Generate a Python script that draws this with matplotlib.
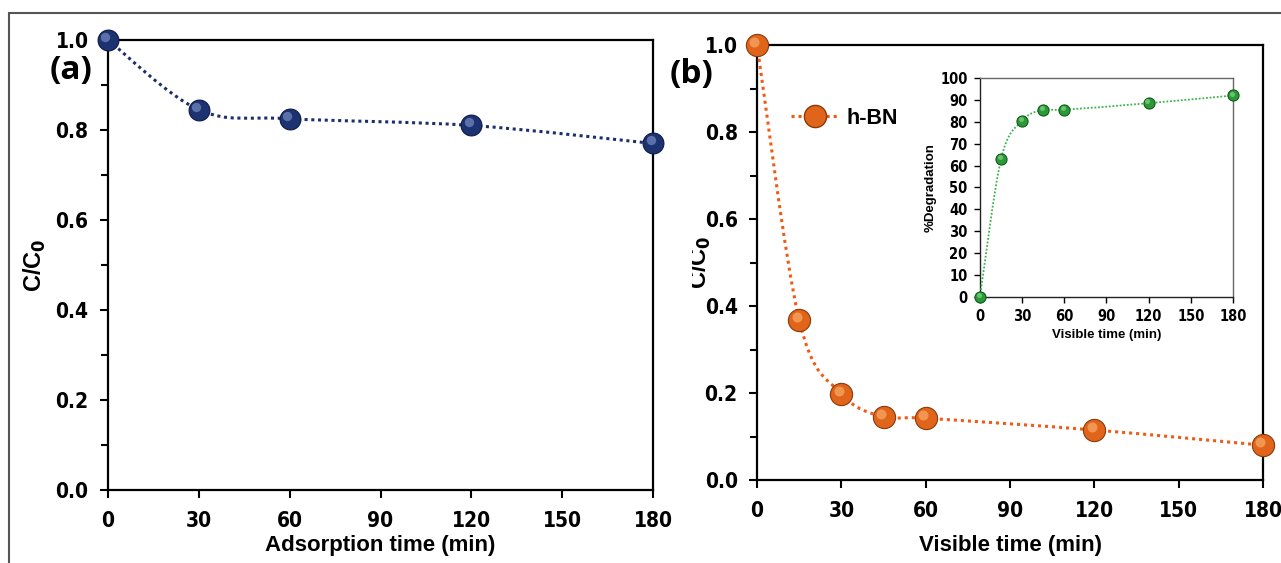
import numpy as np
import matplotlib
matplotlib.use("Agg")
import matplotlib.pyplot as plt
from matplotlib import font_manager as fm
from matplotlib import transforms
from matplotlib.path import Path
from matplotlib.patches import PathPatch, Rectangle
from matplotlib.lines import Line2D
from matplotlib.transforms import Bbox

# data
t_ads = [0, 30, 60, 120, 180]
c_ads = [1.0, 0.845, 0.825, 0.81, 0.77]

t_vis = [0, 15, 30, 45, 60, 120, 180]
c_vis = [1.0, 0.367, 0.198, 0.145, 0.142, 0.115, 0.08]
deg_vis = [0, 63, 80.5, 85.5, 85.5, 88.5, 92]

x_ticks = [0, 30, 60, 90, 120, 150, 180]

plain = ['Liberation Sans', 'DejaVu Sans']

# look for a condensed face for the tick numbers (arial narrow look)
tick_fam, tick_stretch, narrow_ok = 'Liberation Sans', 'normal', False
for fam, st in [('Liberation Sans Narrow', 'normal'), ('DejaVu Sans', 'condensed'),
                ('Noto Sans', 'condensed'), ('Noto Sans Condensed', 'normal'),
                ('Open Sans', 'condensed'), ('Open Sans Condensed', 'normal'),
                ('Roboto Condensed', 'normal'), ('Roboto', 'condensed')]:
    try:
        f = fm.findfont(fm.FontProperties(family=fam, weight='bold', stretch=st),
                        fallback_to_default=False)
    except Exception:
        continue
    if 'ond' in f or 'arrow' in f:
        tick_fam, tick_stretch, narrow_ok = fam, st, True
        break
scale = 1.0 if narrow_ok else 0.88


def smooth_path(x, y):
    # Catmull-Rom style bezier through the points (like excel smoothed lines)
    x = np.asarray(x, float)
    y = np.asarray(y, float)
    verts = [(x[0], y[0])]
    codes = [Path.MOVETO]
    n = len(x)
    for i in range(n - 1):
        x0, y0 = (x[i - 1], y[i - 1]) if i > 0 else (x[i], y[i])
        x3, y3 = (x[i + 2], y[i + 2]) if i + 2 < n else (x[i + 1], y[i + 1])
        c1 = (x[i] + (x[i + 1] - x0) / 6, y[i] + (y[i + 1] - y0) / 6)
        c2 = (x[i + 1] - (x3 - x[i]) / 6, y[i + 1] - (y3 - y[i]) / 6)
        verts += [c1, c2, (x[i + 1], y[i + 1])]
        codes += [Path.CURVE4] * 3
    return Path(verts, codes)


def balls(ax, x, y, face, dark, light, ms):
    ax.plot(x, y, 'o', ms=ms, mfc=face, mec=dark, mew=0.8, zorder=5, clip_on=False)
    hl = transforms.offset_copy(ax.transData, fig=ax.figure, x=-ms * 0.12, y=ms * 0.15, units='points')
    ax.plot(x, y, 'o', ms=ms * 0.45, mfc=light, mec='none', alpha=0.55, zorder=6,
            clip_on=False, transform=hl)


def style_ticks(ax, size, width=1.5, length=6):
    ax.tick_params(direction='out', width=width, length=length)
    ax.tick_params(which='minor', direction='out', width=width, length=length - 1)
    for lab in ax.get_xticklabels() + ax.get_yticklabels():
        lab.set_family(tick_fam)
        lab.set_stretch(tick_stretch)
        lab.set_fontweight('bold')
        lab.set_fontsize(size * scale)


def style_main(ax):
    for s in ax.spines.values():
        s.set_linewidth(1.6)
        s.set_color('black')
    ax.set_xlim(0, 180)
    ax.set_ylim(0, 1.0)
    ax.set_xticks(x_ticks)
    ax.set_yticks(np.arange(0, 1.01, 0.2))
    ax.set_yticks(np.arange(0.1, 1.0, 0.2), minor=True)
    ax.yaxis.set_major_formatter(matplotlib.ticker.FormatStrFormatter('%.1f'))


fig = plt.figure(figsize=(12.81, 5.63), dpi=100)

# outer frame
fig.patches.append(Rectangle((9 / 1281, -0.1), 1.2, 0.1 + 1 - 13 / 563, transform=fig.transFigure,
                             fill=False, ec='#555555', lw=1.5))

# (a) adsorption
ax1 = fig.add_axes([0.0843, 0.1297, 0.4255, 0.7993])
ax1.add_patch(PathPatch(smooth_path(t_ads, c_ads), fill=False, ec='#1b2f6b', lw=2.2,
                        ls=(0, (1, 1.2)), zorder=3))
balls(ax1, t_ads, c_ads, '#1d3270', '#0e1a45', '#8fa4d8', 15)
style_main(ax1)
style_ticks(ax1, 15)
ax1.tick_params(axis='x', pad=9)
ax1.tick_params(axis='y', pad=8)
ax1.set_xlabel('Adsorption time (min)', family=plain, fontweight='bold', fontsize=16, labelpad=3)
ax1.set_ylabel('C/C$_\\mathbf{0}$', family=plain, fontweight='bold', fontsize=17)
ax1.yaxis.set_label_coords(-0.110, 0.5)
fig.text(50 / 1281, 1 - 70 / 563, '(a)', family=['Open Sans', 'DejaVu Sans'], fontweight='bold',
         fontsize=24, va='center', ha='left')

# (b) visible light
ax2 = fig.add_axes([0.591, 0.1474, 0.395, 0.7726])
ax2.add_patch(PathPatch(smooth_path(t_vis, c_vis), fill=False, ec='#f05a14', lw=2.2,
                        ls=(0, (1, 1.3)), zorder=3))
balls(ax2, t_vis, c_vis, '#e0641a', '#8a3a0a', '#ffc080', 16)
style_main(ax2)
style_ticks(ax2, 15)
ax2.tick_params(axis='x', pad=9)
ax2.tick_params(axis='y', pad=8)
ax2.set_xlabel('Visible time (min)', family=plain, fontweight='bold', fontsize=16, labelpad=10)
lbl = fig.text(700 / 1281, 1 - 262 / 563, 'C/C$_\\mathbf{0}$', family=plain, fontweight='bold',
               fontsize=17, rotation=90, ha='center', va='center')
lbl.set_clip_box(Bbox.from_extents(692, 0, 1281, 563))
lbl.set_clip_on(True)
fig.text(670 / 1281, 1 - 75 / 563, '(b)', family=['Open Sans', 'DejaVu Sans'], fontweight='bold',
         fontsize=24, va='center', ha='left')

handle = Line2D([], [], color='#f05a14', lw=2.2, ls=(0, (1, 1.3)), marker='o', ms=16,
                mfc='#e0641a', mec='#8a3a0a')
leg = ax2.legend([handle], ['h-BN'], loc='center left', bbox_to_anchor=(0.067, 0.832),
                 frameon=False, handlelength=2.2, handletextpad=0.4, borderpad=0,
                 borderaxespad=0, prop={'family': plain, 'weight': 'bold', 'size': 15.5})

# inset: % degradation
ax3 = fig.add_axes([0.765, 0.4725, 0.1975, 0.389])
ax3.add_patch(PathPatch(smooth_path(t_vis, deg_vis), fill=False, ec='#3cb44b', lw=1.3,
                        ls=(0, (1, 1)), zorder=3))
balls(ax3, t_vis, deg_vis, '#2a9a38', '#145a1c', '#9fe3a0', 8)
ax3.set_xlim(0, 180)
ax3.set_ylim(0, 100)
ax3.set_xticks(x_ticks)
ax3.set_yticks(np.arange(0, 101, 10))
for s in ax3.spines.values():
    s.set_color('#666666')
    s.set_linewidth(1.0)
ax3.spines['left'].set_color('#222222')
ax3.spines['bottom'].set_color('#222222')
style_ticks(ax3, 10.5, width=1.0, length=4)
ax3.tick_params(pad=5)
ax3.set_xlabel('Visible time (min)', family=plain, fontweight='bold', fontsize=9.5, labelpad=3)
ax3.set_ylabel('%Degradation', family=plain, fontweight='bold', fontsize=9.5)
ax3.yaxis.set_label_coords(-0.17, 0.5)

fig.savefig('out.png', dpi=100)
